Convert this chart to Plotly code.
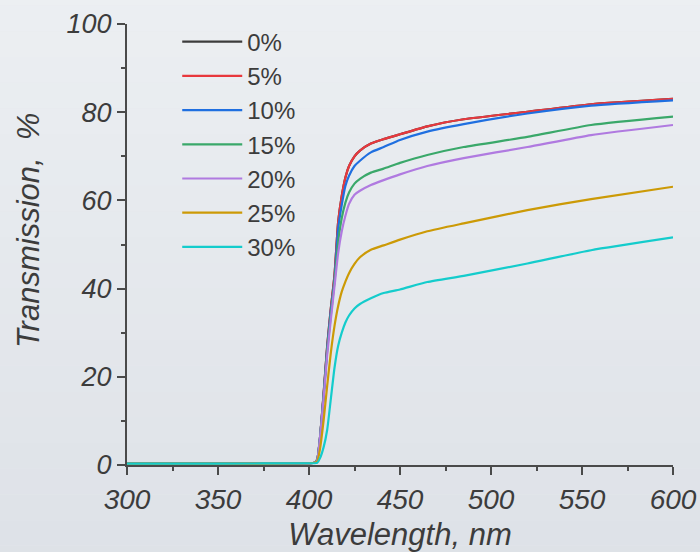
import plotly.graph_objects as go

wavelength = [300, 350, 400, 403, 404.5, 406, 408, 410, 412, 414, 416, 418, 420, 422,
              425, 428, 434, 441, 450, 465, 485, 520, 555, 600]

t_0 = [0.3, 0.3, 0.4, 0.5, 1.2, 6.0, 16.0, 27.0, 35.5, 43.0, 55.0, 61.0, 65.2, 67.8,
       70.0, 71.3, 72.9, 73.9, 75.0, 76.8, 78.4, 80.1, 81.8, 83.0]
t_5 = [0.3, 0.3, 0.4, 0.5, 1.2, 6.0, 16.0, 27.0, 35.5, 43.0, 55.0, 61.0, 65.2, 67.8,
       70.0, 71.3, 72.9, 73.9, 75.0, 76.8, 78.4, 80.1, 81.8, 83.0]
t_10 = [0.3, 0.3, 0.4, 0.5, 1.2, 6.0, 15.5, 26.5, 35.0, 42.0, 53.5, 59.0, 63.3, 65.6,
        67.8, 69.0, 70.9, 72.1, 73.7, 75.6, 77.3, 79.7, 81.5, 82.7]
t_15 = [0.3, 0.3, 0.4, 0.5, 1.2, 6.0, 15.5, 26.0, 34.0, 41.5, 50.5, 56.0, 59.5, 61.8,
        63.8, 64.9, 66.3, 67.2, 68.5, 70.3, 72.1, 74.4, 77.1, 79.0]
t_20 = [0.3, 0.3, 0.4, 0.5, 1.1, 6.0, 15.0, 25.0, 33.0, 40.5, 48.0, 53.0, 56.5, 59.2,
        61.3, 62.2, 63.5, 64.6, 65.9, 67.8, 69.6, 72.1, 74.8, 77.1]
t_25 = [0.3, 0.3, 0.4, 0.5, 0.8, 3.5, 10.0, 18.0, 25.5, 31.5, 36.0, 39.3, 41.6, 43.5,
        45.6, 47.1, 48.8, 49.8, 51.1, 53.0, 54.8, 57.8, 60.3, 63.1]
t_30 = [0.3, 0.3, 0.4, 0.4, 0.5, 1.5, 4.0, 8.0, 15.0, 22.0, 27.0, 30.0, 32.3, 33.9,
        35.5, 36.5, 37.8, 39.0, 39.8, 41.5, 42.9, 45.7, 48.7, 51.6]

series_names = ["0%", "5%", "10%", "15%", "20%", "25%", "30%"]
series_values = [t_0, t_5, t_10, t_15, t_20, t_25, t_30]
series_colors = ["#3c3c3c", "#e8383d", "#1f6fe0", "#3aa86a", "#b07ae0", "#cc9a06", "#14cccc"]

x_ticks = [300, 350, 400, 450, 500, 550, 600]
y_ticks = [0, 20, 40, 60, 80, 100]

fig = go.Figure()
for name, vals, col in zip(series_names, series_values, series_colors):
    fig.add_trace(go.Scatter(
        x=wavelength, y=vals, name=name, mode="lines",
        line=dict(color=col, width=2.2, shape="spline", smoothing=0.5),
    ))

# subtle vertical gradient background
n_bands = 24
top = (236, 239, 242)
bot = (221, 225, 231)
for i in range(n_bands):
    f = i / (n_bands - 1)
    c = tuple(round(top[k] + (bot[k] - top[k]) * f) for k in range(3))
    fig.add_shape(type="rect", xref="paper", yref="paper",
                  x0=-0.3, x1=1.1, y0=1.1 - (i + 1) * 1.4 / n_bands, y1=1.1 - i * 1.4 / n_bands,
                  fillcolor="rgb(%d,%d,%d)" % c, line_width=0, layer="below")

axis_col = "#4a4a4a"
font_fam = "Liberation Sans, Arial, sans-serif"
txt_col = "#3c3c3c"

fig.add_annotation(
    text="Transmission,  %", textangle=-90, showarrow=False,
    xref="paper", yref="paper", x=-0.1813, y=0.5306, xanchor="center", yanchor="middle",
    font=dict(size=31, style="italic", color=txt_col, family=font_fam),
)

fig.update_layout(
    width=700, height=552,
    margin=dict(l=127, r=27, t=24, b=87),
    paper_bgcolor="rgb(229,232,237)",
    plot_bgcolor="rgba(0,0,0,0)",
    font=dict(family=font_fam, color=txt_col),
    showlegend=True,
    legend=dict(
        x=0.092, y=1.01, xanchor="left", yanchor="top",
        bgcolor="rgba(0,0,0,0)",
        font=dict(size=24, color=txt_col, family=font_fam),
        itemwidth=60, tracegroupgap=0,
    ),
    xaxis=dict(
        range=[300, 600], tickvals=x_ticks, ticktext=[str(v) for v in x_ticks],
        showgrid=False, zeroline=False, automargin=False,
        showline=True, linecolor=axis_col, linewidth=2,
        ticks="outside", ticklen=8, tickwidth=2, tickcolor=axis_col,
        tickfont=dict(size=28, style="italic", color=txt_col),
        minor=dict(dtick=25, ticks="outside", ticklen=4, tickwidth=1.5, tickcolor=axis_col),
        title=dict(text="Wavelength, nm", font=dict(size=31, style="italic", color=txt_col),
                   standoff=18),
    ),
    yaxis=dict(
        range=[0, 100], tickvals=y_ticks, ticktext=[str(v) for v in y_ticks],
        showgrid=False, zeroline=False, automargin=False,
        showline=True, linecolor=axis_col, linewidth=2,
        ticks="outside", ticklen=8, tickwidth=2, tickcolor=axis_col,
        tickfont=dict(size=27, style="italic", color=txt_col),
        minor=dict(dtick=10, ticks="outside", ticklen=4, tickwidth=1.5, tickcolor=axis_col),
    ),
)

fig.write_html("out.html")
